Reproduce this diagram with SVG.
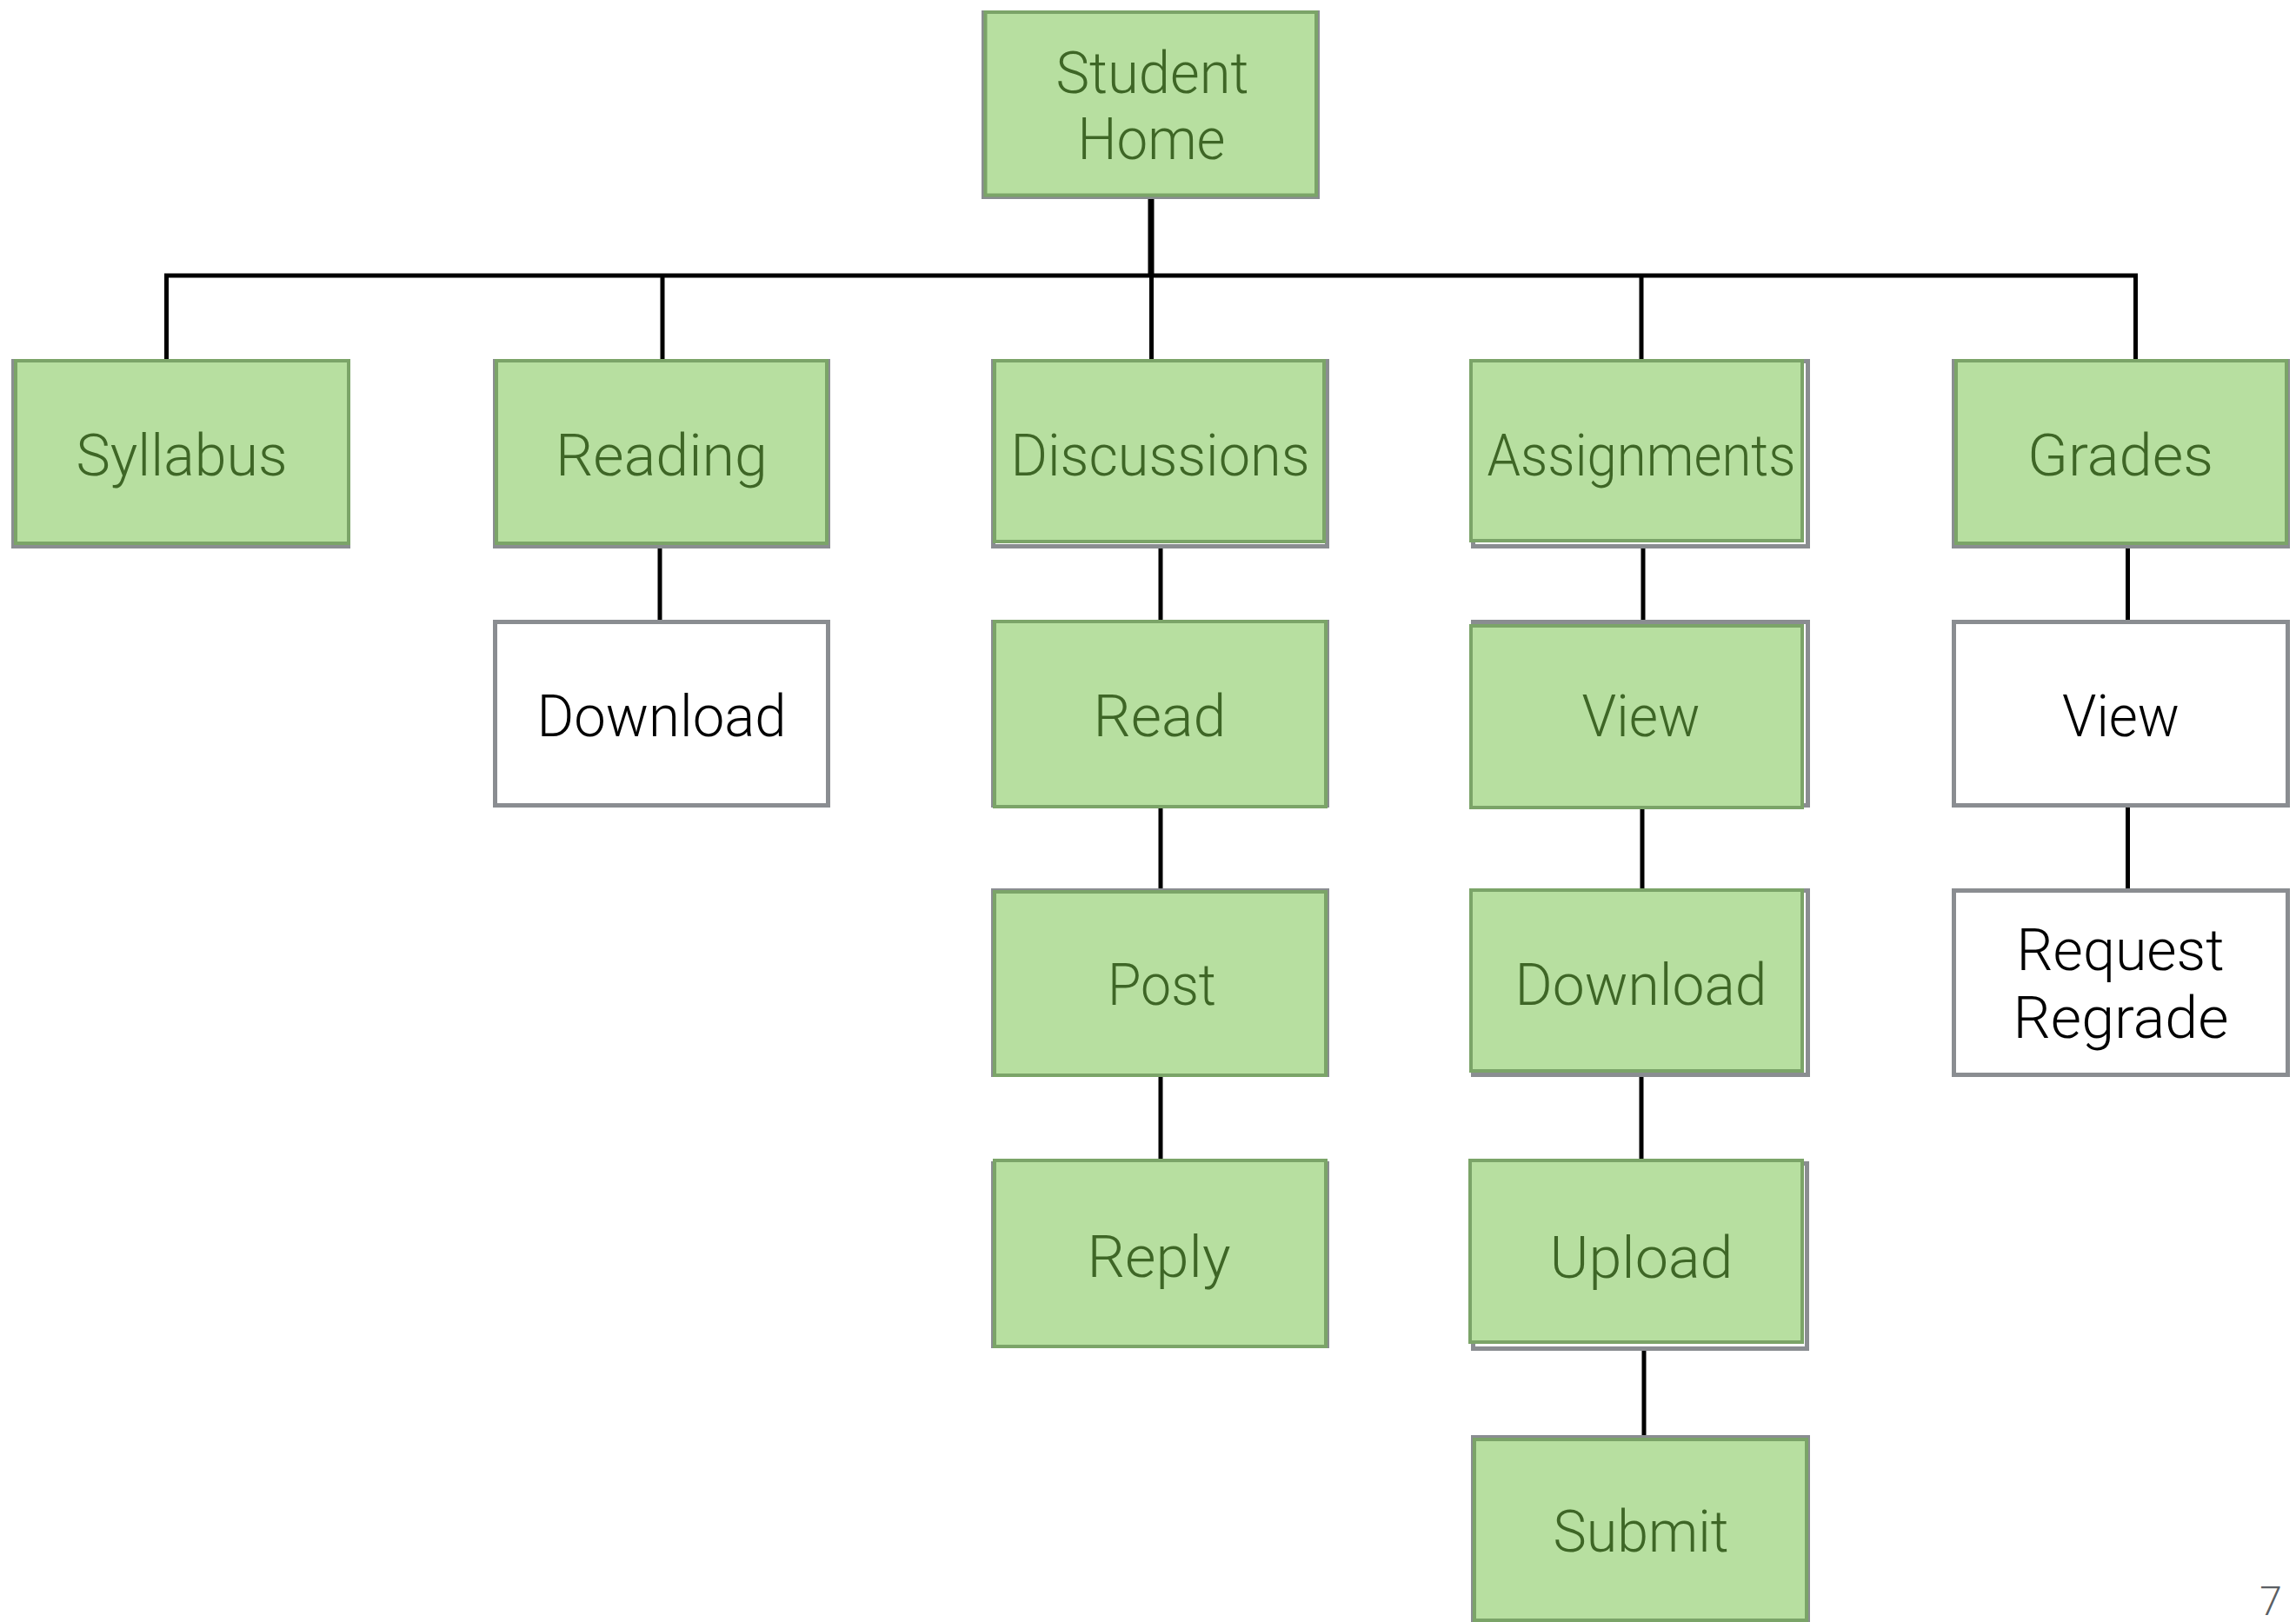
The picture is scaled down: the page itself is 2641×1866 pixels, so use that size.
<svg xmlns="http://www.w3.org/2000/svg" width="2641" height="1866" viewBox="0 0 2641 1866">
<style>
.frame{fill:#fff;stroke:#8a8d91;stroke-width:5}
.fill{fill:#b7dfa0;stroke:#7ba468;stroke-width:4}
.t{font-family:Roboto,"Helvetica Neue","Liberation Sans",sans-serif;font-weight:300;font-size:67px;text-anchor:middle}
.tg{fill:#3e6626}
.tb{fill:#000}
.c{fill:none;stroke:#000;stroke-width:5;stroke-linejoin:miter;stroke-linecap:butt}
.pg{font-family:Roboto,"Liberation Sans",sans-serif;font-weight:300;font-size:46px;fill:#5a5e63;text-anchor:middle}
</style>
<rect width="2641" height="1866" fill="#fff"/>
<g id="connectors">
<path class="c" d="M1324 229V317" style="stroke-width:7"/>
<path class="c" d="M191.5 422V317H2456.5V422"/>
<path class="c" d="M762 317V415"/>
<path class="c" d="M1324.5 317V417"/>
<path class="c" d="M1888 317V415"/>
<path class="c" d="M759 629V723"/>
<path class="c" d="M1335 629V720"/>
<path class="c" d="M1335 928V1026"/>
<path class="c" d="M1335 1237V1335"/>
<path class="c" d="M1890 622V720"/>
<path class="c" d="M1889 928V1024"/>
<path class="c" d="M1888 1237V1338"/>
<path class="c" d="M1891 1552V1653"/>
<path class="c" d="M2447.5 629V722"/>
<path class="c" d="M2447.5 927V1025"/>
</g>
<g id="student-home">
<rect class="frame" x="1131.5" y="14.5" width="384" height="212"/>
<rect class="fill" x="1133.5" y="14" width="380.5" height="210.5"/>
<text class="t tg" x="1325.5" y="107" textLength="222" lengthAdjust="spacingAndGlyphs">Student</text>
<text class="t tg" x="1324.5" y="183" textLength="170" lengthAdjust="spacingAndGlyphs">Home</text>
</g>
<g id="syllabus">
<rect class="frame" x="15.5" y="415.5" width="385" height="213"/>
<rect class="fill" x="18" y="415" width="383" height="210"/>
<text class="t tg" x="209" y="547" textLength="243" lengthAdjust="spacingAndGlyphs">Syllabus</text>
</g>
<g id="reading">
<rect class="frame" x="569.5" y="415.5" width="383" height="213"/>
<rect class="fill" x="571" y="415" width="380" height="210"/>
<text class="t tg" x="761" y="547" textLength="244" lengthAdjust="spacingAndGlyphs">Reading</text>
</g>
<g id="discussions">
<rect class="frame" x="1142.5" y="415.5" width="384" height="213"/>
<rect class="fill" x="1144" y="415" width="379" height="208"/>
<text class="t tg" x="1334.5" y="547" textLength="344" lengthAdjust="spacingAndGlyphs">Discussions</text>
</g>
<g id="assignments">
<rect class="frame" x="1694.5" y="415.5" width="385" height="213"/>
<rect class="fill" x="1692" y="415" width="381" height="207"/>
<text class="t tg" x="1888" y="547" textLength="355" lengthAdjust="spacingAndGlyphs">Assignments</text>
</g>
<g id="grades">
<rect class="frame" x="2247.5" y="415.5" width="384" height="213"/>
<rect class="fill" x="2250" y="415" width="380" height="210"/>
<text class="t tg" x="2439" y="547" textLength="214" lengthAdjust="spacingAndGlyphs">Grades</text>
</g>
<g id="reading-download">
<rect class="frame" x="569.5" y="715.5" width="383" height="211"/>
<text class="t tb" x="761" y="847" textLength="287" lengthAdjust="spacingAndGlyphs">Download</text>
</g>
<g id="discussions-read">
<rect class="frame" x="1142.5" y="715.5" width="384" height="211"/>
<rect class="fill" x="1144" y="715" width="381" height="213"/>
<text class="t tg" x="1334" y="847" textLength="153" lengthAdjust="spacingAndGlyphs">Read</text>
</g>
<g id="assignments-view">
<rect class="frame" x="1694.5" y="715.5" width="385" height="211"/>
<rect class="fill" x="1692" y="720" width="381" height="209"/>
<text class="t tg" x="1887.5" y="847" textLength="136" lengthAdjust="spacingAndGlyphs">View</text>
</g>
<g id="grades-view">
<rect class="frame" x="2247.5" y="715.5" width="384" height="211"/>
<text class="t tb" x="2439.5" y="847" textLength="135" lengthAdjust="spacingAndGlyphs">View</text>
</g>
<g id="discussions-post">
<rect class="frame" x="1142.5" y="1024.5" width="384" height="212"/>
<rect class="fill" x="1144" y="1026" width="381" height="211"/>
<text class="t tg" x="1336.5" y="1156" textLength="125" lengthAdjust="spacingAndGlyphs">Post</text>
</g>
<g id="assignments-download">
<rect class="frame" x="1694.5" y="1024.5" width="385" height="212"/>
<rect class="fill" x="1692" y="1024" width="381" height="208"/>
<text class="t tg" x="1887.5" y="1156" textLength="290" lengthAdjust="spacingAndGlyphs">Download</text>
</g>
<g id="grades-request-regrade">
<rect class="frame" x="2247.5" y="1024.5" width="384" height="212"/>
<text class="t tb" x="2439" y="1116" textLength="239" lengthAdjust="spacingAndGlyphs">Request</text>
<text class="t tb" x="2439.5" y="1194" textLength="248" lengthAdjust="spacingAndGlyphs">Regrade</text>
</g>
<g id="discussions-reply">
<rect class="frame" x="1142.5" y="1338.5" width="384" height="210"/>
<rect class="fill" x="1144" y="1335" width="381" height="214"/>
<text class="t tg" x="1333" y="1469" textLength="165" lengthAdjust="spacingAndGlyphs">Reply</text>
</g>
<g id="assignments-upload">
<rect class="frame" x="1694.5" y="1338.5" width="384" height="213"/>
<rect class="fill" x="1691" y="1335" width="382" height="209"/>
<text class="t tg" x="1888" y="1470" textLength="211" lengthAdjust="spacingAndGlyphs">Upload</text>
</g>
<g id="assignments-submit">
<rect class="frame" x="1694.5" y="1653.5" width="385" height="212"/>
<rect class="fill" x="1696" y="1656" width="382" height="208"/>
<text class="t tg" x="1887.5" y="1785" textLength="202" lengthAdjust="spacingAndGlyphs">Submit</text>
</g>
<text class="pg" x="2612" y="1858">7</text>
</svg>
